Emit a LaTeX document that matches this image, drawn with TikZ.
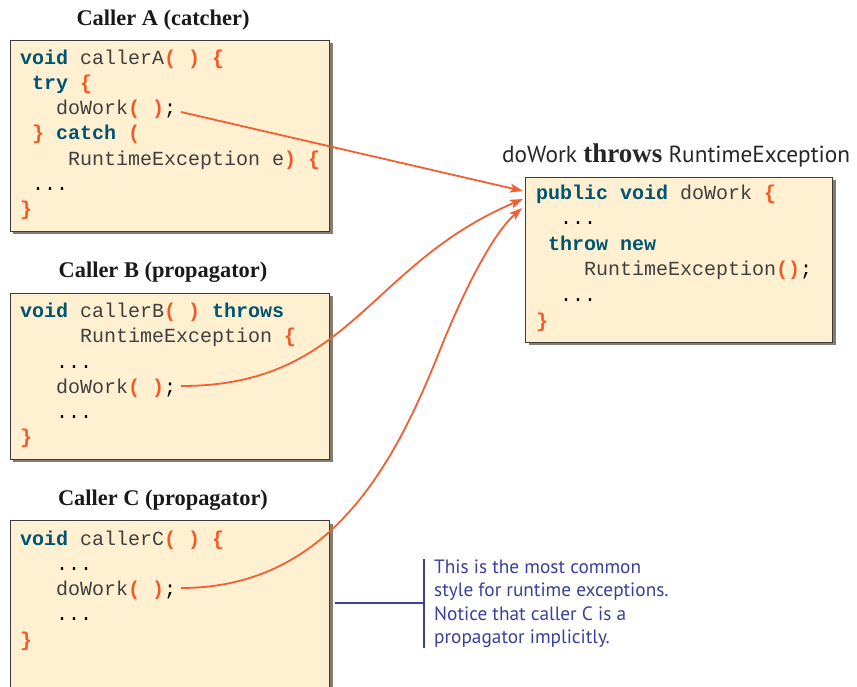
\documentclass[tikz,border=0pt]{standalone}
\usepackage{fontspec}
\setmainfont{Liberation Serif}
\newfontfamily\codefont{Liberation Mono}
\newfontfamily\annfont{PT Sans}
\usetikzlibrary{shadows,arrows.meta}
\definecolor{boxfill}{RGB}{255,240,210}
\definecolor{boxline}{RGB}{60,60,60}
\definecolor{shadowc}{RGB}{135,125,110}
\definecolor{kwc}{RGB}{0,85,115}
\definecolor{brc}{RGB}{240,90,40}
\definecolor{txc}{RGB}{64,64,64}
\definecolor{arrc}{RGB}{242,95,50}
\definecolor{annc}{RGB}{58,64,155}
\newcommand\kw[1]{{\bfseries\color{kwc}#1}}
\newcommand\br[1]{{\bfseries\color{brc}#1}}
\newcommand\bk[1]{{\color{black}#1}}
\begin{document}
\begin{tikzpicture}[x=1pt,y=-1pt,
  codebox/.style={draw=boxline, line width=1.3pt, fill=boxfill, anchor=north west, inner sep=0pt,
    drop shadow={shadow xshift=3pt, shadow yshift=-3pt, fill=shadowc, opacity=1}},
  codeline/.style={anchor=base west, inner sep=0pt, font=\codefont\fontsize{20}{24}\selectfont, text=txc},
  ttl/.style={anchor=base, inner sep=0pt, font=\bfseries\fontsize{22.4}{26}\selectfont, text=black!90},
  annline/.style={anchor=base west, inner sep=0pt, font=\annfont\fontsize{19.3}{23}\selectfont, text=annc},
  arr/.style={draw=arrc, line width=1.8pt, -{Stealth[length=13pt,width=9pt,inset=3pt]}},
  annrule/.style={draw=annc, line width=1.8pt}]
\useasboundingbox (0,0) rectangle (857,686);
\clip (0,0) rectangle (857,686);

% boxes
\node[codebox, minimum width=319.5pt, minimum height=191pt] (boxA) at (9.5,39.5) {};
\node[codebox, minimum width=319.5pt, minimum height=166pt] (boxB) at (9.5,292.7) {};
\node[codebox, minimum width=319.5pt, minimum height=200pt] (boxC) at (9.5,520) {};
\node[codebox, minimum width=307pt, minimum height=165pt] (boxD) at (525,176.7) {};

% titles
\node[ttl] (tA) at (163,25) {Caller A (catcher)};
\node[ttl] (tB) at (163,277) {Caller B (propagator)};
\node[ttl] (tC) at (163,505) {Caller C (propagator)};
\node[anchor=base west, inner sep=0pt, font=\annfont\fontsize{23.3}{26}\selectfont, text=black!85] (tD) at (502,162)
  {doWork {\rmfamily\bfseries\fontsize{27}{28}\selectfont throws} RuntimeException};

% code A
\node[codeline] (a1) at (20,64)    {\kw{void} callerA\br{( )} \br{\{}};
\node[codeline] (a2) at (20,89.3)  {~\kw{try} \br{\{}};
\node[codeline] (a3) at (20,114.6) {~~~doWork\br{( )}\bk{;}};
\node[codeline] (a4) at (20,139.9) {~\br{\}} \kw{catch} \br{(}};
\node[codeline] (a5) at (20,165.2) {~~~~RuntimeException e\br{)} \br{\{}};
\node[codeline] (a6) at (20,190.5) {~\bk{...}};
\node[codeline] (a7) at (20,215.8) {\br{\}}};

% code B
\node[codeline] (b1) at (20,317.5) {\kw{void} callerB\br{( )} \kw{throws}};
\node[codeline] (b2) at (20,342.8) {~~~~~RuntimeException \br{\{}};
\node[codeline] (b3) at (20,368)   {~~~\bk{...}};
\node[codeline] (b4) at (20,393.3) {~~~doWork\br{( )}\bk{;}};
\node[codeline] (b5) at (20,418.6) {~~~\bk{...}};
\node[codeline] (b6) at (20,443.9) {\br{\}}};

% code C
\node[codeline] (c1) at (20,545)   {\kw{void} callerC\br{( )} \br{\{}};
\node[codeline] (c2) at (20,570.3) {~~~\bk{...}};
\node[codeline] (c3) at (20,595.6) {~~~doWork\br{( )}\bk{;}};
\node[codeline] (c4) at (20,620.9) {~~~\bk{...}};
\node[codeline] (c5) at (20,646.2) {\br{\}}};

% code D
\node[codeline] (d1) at (536,199)   {\kw{public void} doWork \br{\{}};
\node[codeline] (d2) at (536,224.6) {~~\bk{...}};
\node[codeline] (d3) at (536,250.2) {~\kw{throw new}};
\node[codeline] (d4) at (536,275.8) {~~~~RuntimeException\br{()}\bk{;}};
\node[codeline] (d5) at (536,301.4) {~~\bk{...}};
\node[codeline] (d6) at (536,327)   {\br{\}}};

% arrows
\coordinate (sA) at (181,112);
\coordinate (eA) at (523,191);
\coordinate (sB) at (181,386);
\coordinate (eB) at (523,199);
\coordinate (sC) at (181,588);
\coordinate (mC) at (440,350);
\coordinate (eC) at (522,208);
\draw[arr] (sA) -- (eA);
\draw[arr] (sB) .. controls (351,386) and (366.6,265.3) .. (eB);
\draw[arr] (sC) .. controls (331,588) and (395.6,461.6) .. (mC) .. controls (462.2,294.2) and (492,234.4) .. (eC);

% annotation
\coordinate (brT) at (424,559);
\coordinate (brB) at (424,648);
\coordinate (brM) at (424,603);
\coordinate (cE) at (335,603);
\draw[annrule] (brT) -- (brB);
\draw[annrule] (cE) -- (brM);
\node[annline] (n1) at (434,573)   {This is the most common};
\node[annline] (n2) at (434,596.5) {style for runtime exceptions.};
\node[annline] (n3) at (434,620)   {Notice that caller C is a};
\node[annline] (n4) at (434,643.5) {propagator implicitly.};
\end{tikzpicture}
\end{document}
